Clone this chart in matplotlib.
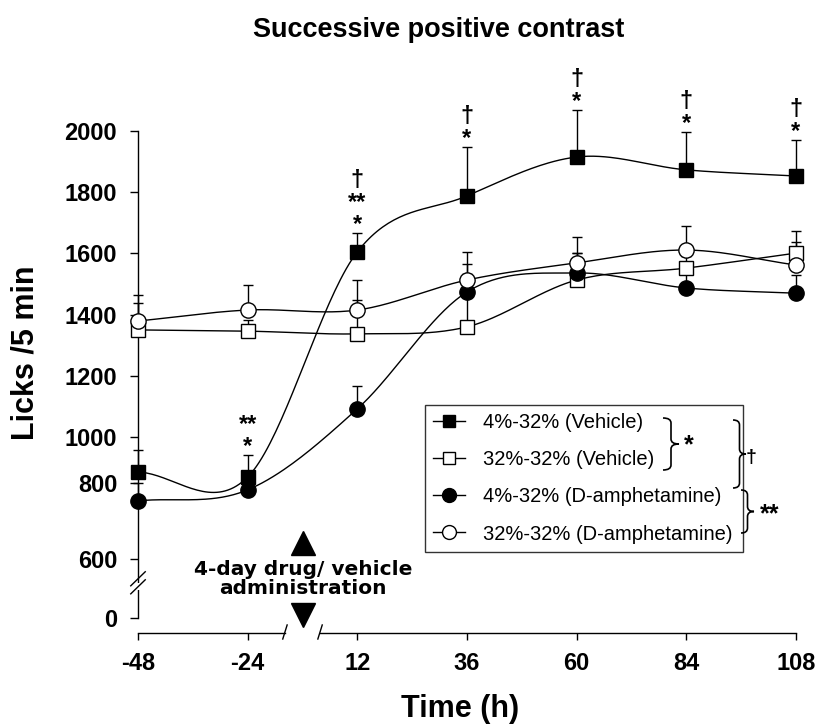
import matplotlib
matplotlib.use("Agg")
import matplotlib.pyplot as plt
import numpy as np
from matplotlib.lines import Line2D
from matplotlib.path import Path
from matplotlib.patches import PathPatch

plt.rcParams['font.family'] = ['Liberation Sans', 'DejaVu Sans']

# data (licks / 5 min), error bars drawn upward only
times = ["-48", "-24", "12", "36", "60", "84", "108"]

veh_4_32 = [848, 826, 1605, 1788, 1915, 1873, 1853]
veh_4_32_err = [95, 96, 62, 160, 154, 124, 118]
veh_32_32 = [1350, 1346, 1337, 1360, 1513, 1552, 1601]
veh_32_32_err = [88, 35, 111, 205, 88, 40, 72]
amph_4_32 = [753, 782, 1092, 1474, 1536, 1487, 1470]
amph_4_32_err = [47, 30, 75, 60, 65, 45, 60]
amph_32_32 = [1379, 1415, 1415, 1513, 1569, 1611, 1562]
amph_32_32_err = [85, 82, 98, 92, 85, 79, 75]

labels = ["4%-32% (Vehicle)", "32%-32% (Vehicle)",
          "4%-32% (D-amphetamine)", "32%-32% (D-amphetamine)"]

# significance marks above the 4%-32% (Vehicle) points (bottom to top)
sig_marks = [[], ["*", "**"], ["*", "**", "†"], ["*", "†"],
             ["*", "†"], ["*", "†"], ["*", "†"]]

# the original y axis is broken and unevenly spaced below 1000
y_vals = [-1000, -150, 0, 600, 800, 1000, 2000, 3000]
y_pos = [-98, -15, 0, 59, 135, 181, 487, 793]


def fwd(v):
    return np.interp(v, y_vals, y_pos)


def inv(p):
    return np.interp(p, y_pos, y_vals)


def smooth(x, y, n=40):
    # Catmull-Rom curve through the points (drawn in axis space)
    x = np.asarray(x, float)
    y = fwd(np.asarray(y, float))
    m = np.gradient(y, x)
    xs, ys = [], []
    for i in range(len(x) - 1):
        h = x[i + 1] - x[i]
        t = np.linspace(0, 1, n)
        h00 = 2 * t ** 3 - 3 * t ** 2 + 1
        h10 = t ** 3 - 2 * t ** 2 + t
        h01 = -2 * t ** 3 + 3 * t ** 2
        h11 = t ** 3 - t ** 2
        xs.append(x[i] + t * h)
        ys.append(h00 * y[i] + h10 * h * m[i] + h01 * y[i + 1] + h11 * h * m[i + 1])
    return np.concatenate(xs), inv(np.concatenate(ys))


fig = plt.figure(figsize=(8.19, 7.25), dpi=100)
ax = fig.add_axes([0.1685, 0.1269, 0.8034, 0.6924])
ax.set_yscale('function', functions=(fwd, inv))

x = np.arange(len(times))
series = [
    (veh_4_32, veh_4_32_err, 's', 'k', 10),
    (veh_32_32, veh_32_32_err, 's', 'white', 10),
    (amph_4_32, amph_4_32_err, 'o', 'k', 11),
    (amph_32_32, amph_32_32_err, 'o', 'white', 11),
]

for vals, err, mk, fc, ms in series:
    sx, sy = smooth(x, vals)
    ax.plot(sx, sy, color='k', lw=1.0, zorder=2, clip_on=False)
    ax.errorbar(x, vals, yerr=[np.zeros(len(err)), err], fmt='none',
                ecolor='k', elinewidth=1.0, capsize=3.6, capthick=1.0,
                zorder=2.5, clip_on=False)
for vals, err, mk, fc, ms in series:
    ax.plot(x, vals, linestyle='none', marker=mk, ms=ms, mfc=fc, mec='k',
            mew=1.0, zorder=3, clip_on=False)

# significance symbols, stacked as one text per time point
for i, marks in enumerate(sig_marks):
    if not marks:
        continue
    top = veh_4_32[i] + veh_4_32_err[i]
    ax.annotate("\n".join(marks[::-1]), xy=(i, top), xytext=(0, -2.5),
                textcoords='offset points', ha='center', va='bottom',
                fontsize=17, fontweight='bold', linespacing=0.95,
                annotation_clip=False)

ax.set_xlim(0, 6)
ax.set_ylim(-150, 2000)
ax.set_yticks([0, 600, 800, 1000, 1200, 1400, 1600, 1800, 2000])
ax.set_yticklabels(['0', '600', '800', '1000', '1200', '1400', '1600', '1800', '2000'])
ax.set_xticks(x)
ax.set_xticklabels(times)
ax.tick_params(axis='y', direction='out', length=6, width=1.0, pad=9,
               labelsize=17)
ax.tick_params(axis='x', direction='out', length=5, width=1.0, pad=9,
               labelsize=17)
for lab in ax.get_xticklabels() + ax.get_yticklabels():
    lab.set_fontweight('bold')

for side in ['top', 'right', 'bottom']:
    ax.spines[side].set_visible(False)
ax.spines['left'].set_bounds(0, 2000)
ax.spines['left'].set_linewidth(1.0)

# broken x axis
xt = ax.get_xaxis_transform()
ax.plot([0, 1.34], [0, 0], color='k', lw=1.0, transform=xt, clip_on=False)
ax.plot([1.66, 6], [0, 0], color='k', lw=1.0, transform=xt, clip_on=False)
for bx in [1.34, 1.66]:
    ax.plot([bx - 0.02, bx + 0.02], [-0.012, 0.016], color='k', lw=1.0,
            transform=xt, clip_on=False)

# broken y axis
ax.add_patch(plt.Rectangle((-0.004, 0.085), 0.008, 0.014, transform=ax.transAxes,
                           facecolor='white', edgecolor='none', zorder=4,
                           clip_on=False))
for by in [0.078, 0.094]:
    ax.plot([-0.011, 0.011], [by, by + 0.028], color='k', lw=1.0,
            transform=ax.transAxes, clip_on=False, zorder=5)

# drug administration marker
ax.plot([0.2508], [0.179], marker='^', ms=17, color='k',
        transform=ax.transAxes, clip_on=False)
ax.plot([0.2508], [0.036], marker='v', ms=17, color='k',
        transform=ax.transAxes, clip_on=False)
ax.text(0.2508, 0.107, "4-day drug/ vehicle\nadministration",
        transform=ax.transAxes, ha='center', va='center', fontsize=14.5,
        fontweight='bold', family='DejaVu Sans', linespacing=1.0)

# legend
handles = []
for vals, err, mk, fc, ms in series:
    handles.append(Line2D([], [], color='k', lw=1.0, marker=mk, ms=ms - 1,
                          mfc=fc, mec='k', mew=1.0))
leg = ax.legend(handles, labels, loc='upper left',
                bbox_to_anchor=(0.436, 0.179, 0.483, 0.275), mode='expand',
                borderaxespad=0, fontsize=14.5, frameon=True, fancybox=False,
                edgecolor='k', handlelength=1.6, handletextpad=0.9,
                labelspacing=0.9, borderpad=0.4)
leg.get_frame().set_linewidth(1.0)


def brace(x0, ya, yb, w, r=5):
    # curly brace in figure pixels (y measured from the top)
    W, H = 819.0, 725.0
    ym = (ya + yb) / 2.0
    xs = x0 + w / 2.0
    pts = [(x0, ya), (xs, ya), (xs, ya + r), (xs, ym - r), (xs, ym),
           (x0 + w, ym), (xs, ym), (xs, ym + r), (xs, yb - r), (xs, yb),
           (x0, yb)]
    codes = [Path.MOVETO, Path.CURVE3, Path.CURVE3, Path.LINETO, Path.CURVE3,
             Path.CURVE3, Path.CURVE3, Path.CURVE3, Path.LINETO, Path.CURVE3,
             Path.CURVE3]
    pts = [(px / W, 1 - py / H) for px, py in pts]
    fig.add_artist(PathPatch(Path(pts, codes), facecolor='none',
                             edgecolor='k', lw=1.2, transform=fig.transFigure))


brace(663, 418, 470, 16)
brace(733, 420, 488, 13)
brace(741, 490, 533, 13)
fig.text(689 / 819, 1 - 452 / 725, "*", fontsize=18, fontweight='bold',
         ha='center', va='baseline')
fig.text(751 / 819, 1 - 462 / 725, "†", fontsize=14, fontweight='bold',
         ha='center', va='baseline')
fig.text(770 / 819, 1 - 521 / 725, "**", fontsize=18, fontweight='bold',
         ha='center', va='baseline')

fig.text(0.536, 0.958, "Successive positive contrast", ha='center',
         va='center', fontsize=19.5, fontweight='bold')
fig.text(0.031, 0.514, "Licks /5 min", rotation=90, ha='center', va='center',
         fontsize=22, fontweight='bold')
fig.text(0.562, 1 - 717 / 725, "Time (h)", ha='center', va='baseline',
         fontsize=22, fontweight='bold')

fig.savefig("out.png", dpi=100)
